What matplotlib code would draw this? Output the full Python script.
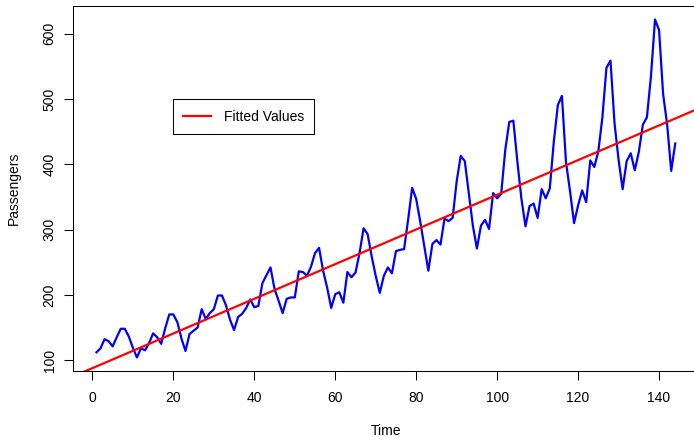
import numpy as np
import matplotlib
matplotlib.use("Agg")
import matplotlib.pyplot as plt

plt.rcParams['font.family'] = ['Liberation Sans', 'DejaVu Sans']

passengers = [
    112, 118, 132, 129, 121, 135, 148, 148, 136, 119, 104, 118,
    115, 126, 141, 135, 125, 149, 170, 170, 158, 133, 114, 140,
    145, 150, 178, 163, 172, 178, 199, 199, 184, 162, 146, 166,
    171, 180, 193, 181, 183, 218, 230, 242, 209, 191, 172, 194,
    196, 196, 236, 235, 229, 243, 264, 272, 237, 211, 180, 201,
    204, 188, 235, 227, 234, 264, 302, 293, 259, 229, 203, 229,
    242, 233, 267, 269, 270, 315, 364, 347, 312, 274, 237, 278,
    284, 277, 317, 313, 318, 374, 413, 405, 355, 306, 271, 306,
    315, 301, 356, 348, 355, 422, 465, 467, 404, 347, 305, 336,
    340, 318, 362, 348, 363, 435, 491, 505, 404, 359, 310, 337,
    360, 342, 406, 396, 420, 472, 548, 559, 463, 407, 362, 405,
    417, 391, 419, 461, 472, 535, 622, 606, 508, 461, 390, 432,
]
time = list(range(1, len(passengers) + 1))
x_ticks = [0, 20, 40, 60, 80, 100, 120, 140]
y_ticks = [100, 200, 300, 400, 500, 600]
legend_label = "Fitted Values"

t = np.array(time, dtype=float)
y = np.array(passengers, dtype=float)
slope, intercept = np.polyfit(t, y, 1)

W, H = 694, 437
fig = plt.figure(figsize=(W / 100, H / 100), dpi=100)
L, R, T, B = 73.3, 698.4, 6.0, 371.0
ax = fig.add_axes([L / W, 1 - B / H, (R - L) / W, (B - T) / H])

xr = (min(time), max(time))
yr = (min(passengers), max(passengers))
dx = (xr[1] - xr[0]) * 0.04
dy = (yr[1] - yr[0]) * 0.04
ax.set_xlim(xr[0] - dx, xr[1] + dx)
ax.set_ylim(yr[0] - dy, yr[1] + dy)

ax.plot(time, passengers, color='#0000ff', lw=1.6)
xl = np.array(ax.get_xlim())
ax.plot(xl, intercept + slope * xl, color='#ff0000', lw=1.6, label=legend_label)

ax.set_xticks(x_ticks)
ax.set_yticks(y_ticks)
ax.tick_params(axis='both', direction='out', length=6.5, width=0.75, labelsize=10, colors='black')
ax.tick_params(axis='x', pad=8)
ax.tick_params(axis='y', pad=5.5)
for lab in ax.get_yticklabels():
    lab.set_rotation(90)
    lab.set_va('center')
for s in ax.spines.values():
    s.set_linewidth(0.75)

ax.set_xlabel("Time", fontsize=10)
ax.set_ylabel("Passengers", fontsize=10)
ax.xaxis.set_label_coords(0.5, (B - 431) / (B - T))
ax.xaxis.label.set_va('center')
ax.yaxis.set_label_coords((14 - L) / (R - L), 0.5)
ax.yaxis.label.set_va('center')

leg = ax.legend(loc='upper left', bbox_to_anchor=(173 / W, 1 - 99.3 / H),
                bbox_transform=fig.transFigure, borderaxespad=0,
                fancybox=False, framealpha=1, edgecolor='black',
                fontsize=10, handlelength=1.95, handletextpad=0.95,
                borderpad=0.75)
leg.get_frame().set_linewidth(0.75)

fig.savefig("out.png", dpi=100)
